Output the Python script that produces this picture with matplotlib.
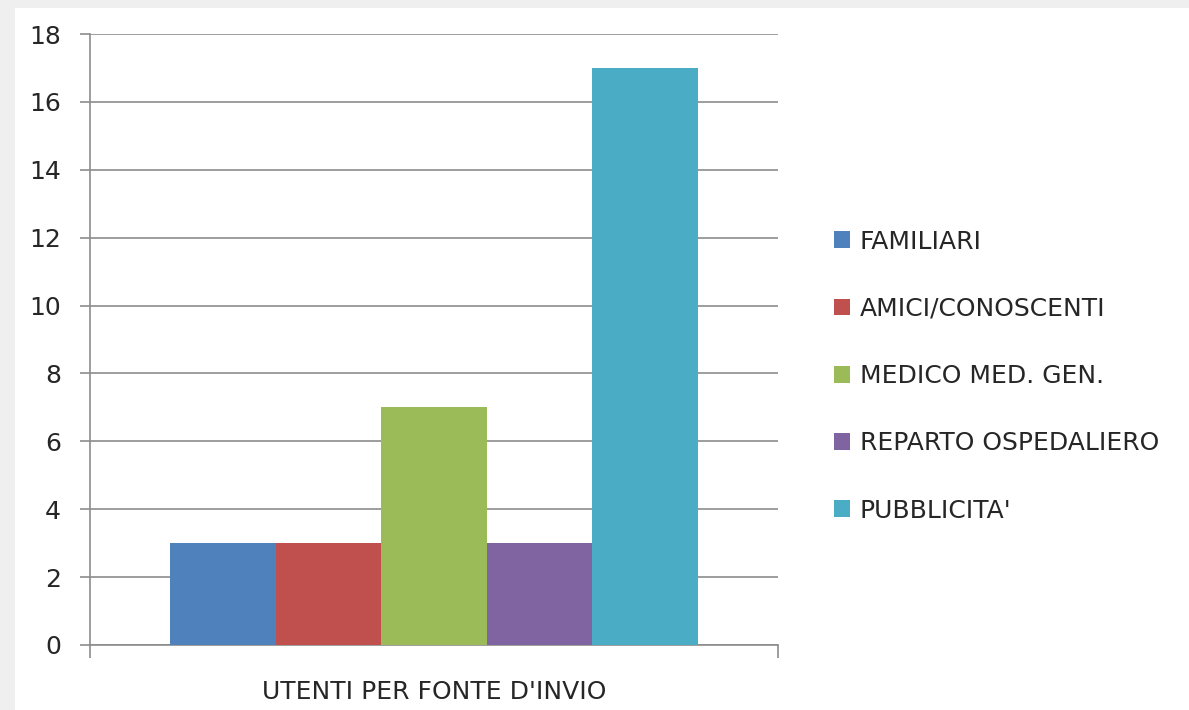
import matplotlib.pyplot as plt
from matplotlib.patches import Rectangle, Patch

categories = ["FAMILIARI", "AMICI/CONOSCENTI", "MEDICO MED. GEN.",
              "REPARTO OSPEDALIERO", "PUBBLICITA'"]
values = [3, 3, 7, 3, 17]
colors = ["#4f81bd", "#c0504d", "#9bbb59", "#8064a2", "#4bacc6"]
xlabel = "UTENTI PER FONTE D'INVIO"
yticks = [0, 2, 4, 6, 8, 10, 12, 14, 16, 18]

plt.rcParams['font.family'] = ['DejaVu Sans']

W, H = 1189, 710
fig = plt.figure(figsize=(W / 100, H / 100), dpi=100)
fig.patch.set_facecolor("#efefef")
# white card behind everything
card = Rectangle((15 / W, 0), 1, 1 - 8 / H, transform=fig.transFigure,
                 facecolor="white", edgecolor="none", zorder=-10)
fig.patches.append(card)

ax = fig.add_axes([90 / W, (H - 645) / H, (778 - 90) / W, (645 - 34) / H])
ax.set_zorder(5)
ax.set_facecolor("none")

group = 0.766
bw = group / len(values)
for i, (c, v, col) in enumerate(zip(categories, values, colors)):
    x = -group / 2 + bw * (i + 0.5)
    ax.bar(x, v, width=bw, color=col, zorder=3, label=c)

ax.set_xlim(-0.5, 0.5)
ax.set_ylim(0, 18)
ax.set_yticks(yticks)
ax.set_xticks([-0.5, 0.5])
ax.set_xticklabels(["", ""])
ax.tick_params(axis='y', length=7, width=1.2, color="#8c8c8c", pad=14,
               labelsize=18, labelcolor="#262626")
ax.tick_params(axis='x', length=9, width=1.2, color="#8c8c8c")
ax.grid(axis='y', color="#8c8c8c", linewidth=1.2, zorder=0)
for s in ["top", "right"]:
    ax.spines[s].set_visible(False)
for s in ["left", "bottom"]:
    ax.spines[s].set_color("#8c8c8c")
    ax.spines[s].set_linewidth(1.2)
ax.set_xlabel(xlabel, fontsize=18, color="#262626", labelpad=13)

handles = [Patch(facecolor=col, edgecolor="none") for col in colors]
leg = fig.legend(handles, categories, loc='upper left',
                 bbox_to_anchor=(811 / W, 1 - 207 / H), frameon=False,
                 handlelength=0.65, handleheight=0.65, handletextpad=0.4,
                 labelspacing=1.73, fontsize=18, labelcolor="#262626")
leg.set_zorder(6)

fig.savefig("out.png", dpi=100)
